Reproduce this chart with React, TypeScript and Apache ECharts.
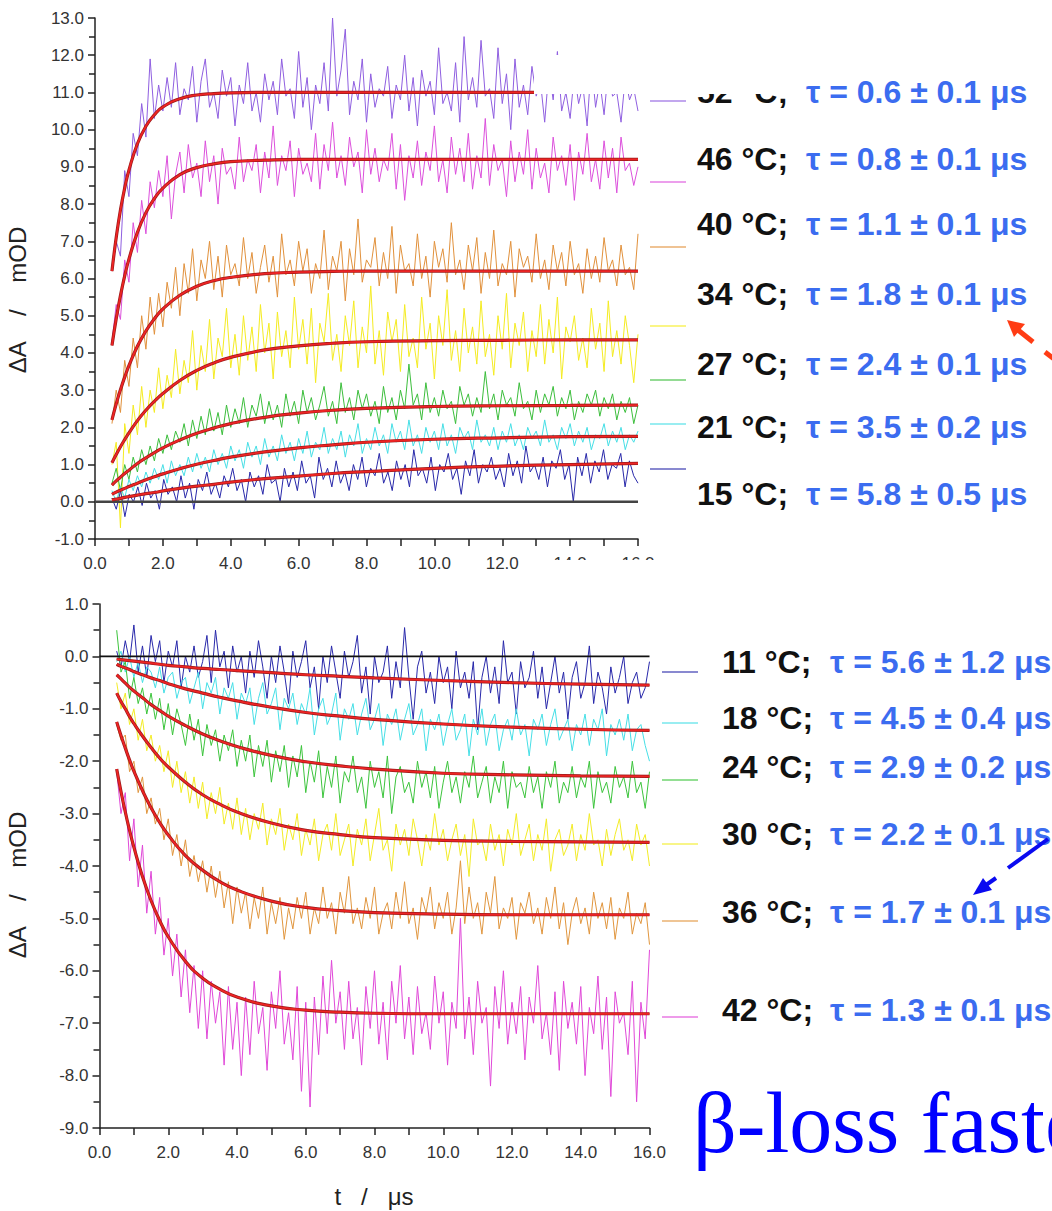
import React, { useEffect, useRef } from 'react';
import * as echarts from 'echarts';

// ---------- DATA ----------
const T_START = 0.5;
const T_END = 16;

// fit time grid (μs)
const fitTimes = [0.5, 0.625, 0.75, 0.875, 1, 1.25, 1.5, 1.75, 2, 2.5, 3, 3.5, 4, 5, 6, 7, 8, 10, 12, 14, 16];

// Top panel (ΔA rising)
const topTempLabels = ['52 °C;', '46 °C;', '40 °C;', '34 °C;', '27 °C;', '21 °C;', '15 °C;'];
const topTauLabels = ['τ = 0.6 ± 0.1 μs', 'τ = 0.8 ± 0.1 μs', 'τ = 1.1 ± 0.1 μs', 'τ = 1.8 ± 0.1 μs', 'τ = 2.4 ± 0.1 μs', 'τ = 3.5 ± 0.2 μs', 'τ = 5.8 ± 0.5 μs'];

const fit52 = [6.2, 7.1, 7.84, 8.43, 8.91, 9.62, 10.09, 10.4, 10.61, 10.83, 10.93, 10.97, 10.99, 11.0, 11.0, 11.0, 11.0, 11.0, 11.0, 11.0, 11.0];
const fit46 = [4.2, 4.92, 5.54, 6.07, 6.52, 7.24, 7.77, 8.15, 8.43, 8.79, 8.98, 9.08, 9.14, 9.18, 9.2, 9.2, 9.2, 9.2, 9.2, 9.2, 9.2];
const fit40 = [2.2, 2.63, 3.01, 3.35, 3.66, 4.18, 4.59, 4.92, 5.18, 5.55, 5.79, 5.94, 6.03, 6.13, 6.17, 6.19, 6.2, 6.2, 6.2, 6.2, 6.2];
const fit34 = [1.05, 1.27, 1.48, 1.67, 1.85, 2.18, 2.46, 2.7, 2.91, 3.26, 3.53, 3.73, 3.88, 4.08, 4.19, 4.26, 4.3, 4.33, 4.34, 4.35, 4.35];
const fit27 = [0.45, 0.56, 0.66, 0.76, 0.85, 1.03, 1.18, 1.32, 1.45, 1.66, 1.84, 1.98, 2.1, 2.27, 2.38, 2.46, 2.51, 2.56, 2.58, 2.59, 2.6];
const fit21 = [0.2, 0.26, 0.31, 0.36, 0.41, 0.5, 0.59, 0.67, 0.75, 0.89, 1.01, 1.11, 1.2, 1.34, 1.45, 1.53, 1.6, 1.68, 1.72, 1.75, 1.76];
const fit15 = [0.05, 0.07, 0.09, 0.12, 0.14, 0.18, 0.22, 0.25, 0.29, 0.36, 0.42, 0.47, 0.53, 0.62, 0.69, 0.76, 0.81, 0.9, 0.96, 1.0, 1.03];

const trace52 = [6.2, 7.0, 6.6, 8.9, 8.2, 9.9, 9.3, 10.7, 9.8, 11.9, 10.3, 11.2, 10.5, 11.4, 10.6, 11.8, 10.4, 11.1, 10.8, 11.7, 10.2, 11.3, 11.9, 10.6, 11.0, 10.3, 11.6, 10.9, 11.4, 10.1, 11.2, 10.7, 11.8, 10.5, 11.0, 10.2, 11.5, 10.8, 11.3, 10.4, 11.9, 10.9, 11.1, 10.3, 12.1, 10.6, 11.4, 10.0, 11.2, 10.7, 11.8, 10.5, 13.0, 10.9, 11.6, 12.7, 10.4, 11.3, 10.8, 11.9, 10.2, 11.5, 10.6, 11.1, 10.9, 11.7, 10.3, 11.2, 10.8, 12.0, 10.5, 11.4, 10.1, 11.6, 10.9, 11.3, 10.4, 12.2, 10.7, 11.0, 10.5, 11.8, 10.2, 12.5, 10.8, 11.4, 10.6, 12.4, 10.9, 11.1, 10.3, 12.2, 10.7, 11.5, 10.0, 11.9, 10.6, 11.2, 10.4, 11.7, 10.9, 11.3, 10.2, 11.6, 10.8, 12.1, 10.5, 11.0, 10.3, 11.5, 10.7, 11.2, 10.1, 11.8, 10.6, 11.3, 10.4, 11.6, 10.9, 11.0, 10.2, 11.4, 10.8, 11.1, 10.5];
const trace46 = [4.3, 5.3, 4.9, 6.5, 5.9, 7.5, 6.7, 8.1, 7.2, 8.6, 7.9, 8.9, 8.2, 9.3, 7.6, 8.8, 9.4, 8.3, 9.6, 8.7, 9.1, 8.2, 9.7, 8.6, 9.3, 8.0, 9.5, 8.8, 9.0, 8.4, 9.8, 8.6, 9.2, 8.9, 9.6, 8.3, 9.4, 8.7, 10.1, 8.5, 9.3, 8.9, 9.7, 8.2, 9.5, 8.8, 9.1, 8.6, 9.9, 8.4, 9.6, 8.9, 10.2, 8.7, 9.3, 8.5, 9.8, 9.0, 9.4, 8.3, 10.0, 8.8, 9.5, 8.6, 9.2, 8.9, 9.9, 8.4, 9.6, 8.1, 9.3, 8.7, 9.7, 8.5, 9.4, 8.9, 10.1, 8.6, 9.2, 8.3, 9.8, 8.8, 9.5, 8.6, 9.9, 8.4, 9.3, 8.7, 10.3, 8.5, 9.6, 8.9, 9.2, 8.2, 9.7, 8.6, 9.4, 8.8, 10.0, 8.4, 9.5, 8.7, 9.1, 8.3, 9.8, 8.9, 9.3, 8.5, 9.6, 8.1, 9.4, 8.8, 9.9, 8.6, 9.2, 8.4, 9.7, 8.7, 9.5, 8.3, 9.8, 8.9, 9.1, 8.5, 9.0];
const trace40 = [2.1, 3.0, 2.4, 3.8, 3.1, 4.4, 3.6, 5.0, 4.1, 5.5, 4.5, 5.6, 4.7, 5.9, 5.2, 6.3, 5.0, 6.4, 5.6, 6.8, 5.4, 6.5, 6.0, 7.0, 5.7, 6.6, 5.5, 6.9, 6.1, 6.4, 5.8, 7.1, 6.0, 6.7, 5.6, 6.3, 6.9, 5.9, 6.6, 5.5, 7.2, 6.1, 6.5, 5.8, 7.0, 6.2, 6.8, 5.6, 6.4, 6.0, 7.3, 5.7, 6.6, 6.2, 7.0, 5.4, 6.8, 6.1, 7.6, 5.9, 6.5, 6.3, 7.1, 5.8, 6.7, 6.0, 7.4, 5.6, 6.9, 6.2, 6.4, 5.8, 7.2, 6.0, 6.6, 5.5, 7.0, 6.3, 6.8, 5.9, 7.5, 6.1, 6.5, 5.7, 6.9, 6.2, 7.1, 5.6, 6.7, 6.0, 7.3, 5.8, 6.4, 6.1, 7.0, 5.5, 6.8, 6.3, 6.6, 5.9, 7.2, 6.0, 6.5, 5.7, 6.9, 6.2, 6.7, 5.8, 7.0, 6.1, 6.4, 5.6, 6.8, 6.0, 6.6, 5.9, 7.1, 6.2, 6.5, 5.8, 6.9, 6.1, 6.3, 5.7, 7.2];
const trace34 = [1.0, 1.6, -0.7, 2.1, 1.3, 2.6, 1.8, 3.1, 2.0, 3.0, 2.4, 3.6, 2.5, 3.4, 2.8, 4.1, 2.9, 3.8, 3.2, 4.6, 3.0, 4.2, 3.5, 4.9, 3.3, 4.4, 3.9, 5.2, 3.6, 4.5, 3.4, 5.0, 3.8, 4.7, 3.5, 5.3, 4.0, 4.8, 3.3, 5.1, 3.9, 4.6, 3.6, 5.5, 4.1, 4.9, 3.7, 5.2, 3.2, 4.8, 4.3, 5.6, 3.8, 4.5, 3.5, 5.0, 4.2, 5.4, 3.6, 4.7, 4.0, 5.8, 3.7, 4.6, 3.4, 5.1, 4.3, 4.9, 3.5, 5.3, 3.9, 4.4, 3.6, 5.5, 4.1, 4.8, 3.3, 5.0, 4.2, 5.7, 3.8, 4.6, 3.5, 5.2, 4.0, 4.7, 3.7, 5.4, 3.9, 4.5, 3.4, 5.0, 4.1, 5.6, 3.6, 4.8, 4.2, 5.1, 3.5, 4.6, 3.9, 5.3, 3.7, 4.9, 4.0, 5.5, 3.3, 4.7, 4.3, 5.0, 3.8, 4.4, 3.6, 5.2, 4.1, 4.8, 3.5, 5.4, 3.9, 4.6, 3.7, 5.0, 4.2, 3.2, 4.5];
const trace27 = [0.5, 0.9, 0.3, 1.0, 0.6, 1.2, 0.8, 1.4, 1.0, 1.5, 1.1, 1.7, 1.3, 1.8, 1.4, 1.9, 1.6, 2.1, 1.5, 2.2, 1.7, 2.3, 1.8, 2.5, 1.9, 2.4, 1.8, 2.6, 2.0, 2.5, 2.1, 2.8, 2.0, 2.6, 2.3, 2.9, 2.1, 2.7, 2.2, 2.6, 2.0, 2.9, 2.3, 2.7, 2.1, 3.0, 2.4, 2.8, 2.2, 2.6, 3.1, 2.3, 2.7, 2.1, 3.2, 2.4, 2.8, 2.2, 3.0, 2.5, 2.9, 2.3, 2.7, 2.1, 3.1, 2.4, 2.8, 2.2, 3.0, 2.5, 3.7, 2.6, 2.9, 2.2, 3.2, 2.4, 2.8, 2.3, 3.0, 2.5, 2.7, 2.1, 3.1, 2.6, 2.9, 2.3, 2.8, 2.4, 3.5, 2.5, 2.9, 2.2, 3.0, 2.6, 2.8, 2.3, 3.2, 2.5, 2.7, 2.2, 3.0, 2.4, 2.9, 2.6, 3.1, 2.3, 2.8, 2.5, 3.0, 2.2, 2.7, 2.4, 2.9, 2.6, 3.0, 2.3, 2.8, 2.5, 2.9, 2.2, 2.7, 2.4, 2.8, 2.1, 2.6];
const trace21 = [0.3, 0.0, 0.4, 0.1, 0.6, 0.3, 0.7, 0.4, 0.8, 0.5, 0.9, 0.6, 1.0, 0.5, 1.1, 0.7, 1.0, 0.7, 1.2, 0.8, 1.3, 0.9, 1.2, 0.8, 1.4, 1.0, 1.3, 0.9, 1.5, 1.1, 1.4, 0.9, 1.6, 1.2, 1.5, 1.0, 1.7, 1.2, 1.5, 1.1, 1.8, 1.3, 1.6, 1.1, 1.7, 1.3, 1.9, 1.2, 1.6, 1.4, 2.0, 1.3, 1.7, 1.4, 1.9, 1.2, 1.8, 1.5, 2.1, 1.3, 1.7, 1.4, 2.0, 1.5, 1.8, 1.3, 2.1, 1.6, 1.9, 1.4, 2.2, 1.5, 1.8, 1.3, 2.0, 1.6, 1.9, 1.4, 2.1, 1.5, 1.8, 1.3, 2.0, 1.7, 1.9, 1.4, 2.2, 1.6, 1.8, 1.5, 2.0, 1.4, 1.9, 1.6, 2.1, 1.5, 1.8, 1.4, 2.0, 1.7, 1.9, 1.5, 2.2, 1.6, 1.8, 1.4, 2.0, 1.7, 2.1, 1.5, 1.9, 1.6, 2.0, 1.4, 1.8, 1.7, 2.1, 1.5, 1.9, 1.6, 2.0, 1.4, 1.8, 1.6, 1.9];
const trace15 = [0.1, -0.2, 0.3, -0.4, 0.2, 0.0, 0.4, -0.1, 0.5, 0.1, 0.3, -0.2, 0.6, 0.2, 0.4, 0.0, 0.7, 0.1, 0.5, -0.2, 0.6, 0.3, 0.8, 0.2, 0.5, 0.1, 0.7, 0.4, 0.9, 0.3, 0.6, 0.0, 0.8, 0.4, 0.7, 0.2, 1.0, 0.5, 0.6, 0.0, 0.9, 0.4, 0.8, 0.3, 1.1, 0.5, 0.7, 0.1, 1.2, 0.6, 0.9, 0.4, 1.1, 0.5, 0.8, 0.3, 1.0, 0.6, 1.2, 0.4, 0.9, 0.7, 1.3, 0.5, 0.8, 0.3, 1.1, 0.6, 1.0, 0.4, 1.4, 0.7, 0.9, 0.5, 1.2, 0.3, 1.0, 0.8, 1.3, 0.6, 0.9, 0.2, 1.1, 0.7, 1.4, 0.5, 1.0, 0.8, 1.2, 0.6, 0.9, 0.4, 1.3, 0.7, 1.1, 0.5, 1.5, 0.8, 1.0, 0.6, 1.2, 0.4, 1.1, 0.9, 1.4, 0.6, 1.0, 0.0, 1.2, 0.7, 1.3, 0.5, 1.1, 0.8, 1.4, 0.6, 1.0, 0.9, 1.3, 0.4, 1.1, 0.7, 0.5];

// Bottom panel (ΔA decaying)
const botTempLabels = ['11 °C;', '18 °C;', '24 °C;', '30 °C;', '36 °C;', '42 °C;'];
const botTauLabels = ['τ = 5.6 ± 1.2 μs', 'τ = 4.5 ± 0.4 μs', 'τ = 2.9 ± 0.2 μs', 'τ = 2.2 ± 0.1 μs', 'τ = 1.7 ± 0.1 μs', 'τ = 1.3 ± 0.1 μs'];

const fit11 = [-0.05, -0.06, -0.07, -0.08, -0.09, -0.11, -0.13, -0.15, -0.17, -0.2, -0.23, -0.25, -0.27, -0.31, -0.35, -0.38, -0.41, -0.46, -0.5, -0.53, -0.55];
const fit18 = [-0.15, -0.19, -0.22, -0.25, -0.29, -0.35, -0.41, -0.46, -0.52, -0.62, -0.7, -0.78, -0.85, -0.97, -1.07, -1.14, -1.2, -1.29, -1.35, -1.39, -1.41];
const fit24 = [-0.35, -0.43, -0.51, -0.59, -0.66, -0.79, -0.92, -1.03, -1.14, -1.32, -1.48, -1.61, -1.72, -1.89, -2.01, -2.09, -2.15, -2.23, -2.26, -2.28, -2.29];
const fit30 = [-0.7, -0.86, -1.0, -1.15, -1.28, -1.52, -1.74, -1.94, -2.11, -2.4, -2.64, -2.82, -2.97, -3.18, -3.32, -3.4, -3.46, -3.51, -3.53, -3.54, -3.55];
const fit36 = [-1.25, -1.51, -1.75, -1.98, -2.19, -2.56, -2.89, -3.17, -3.41, -3.8, -4.08, -4.3, -4.46, -4.67, -4.79, -4.85, -4.89, -4.92, -4.93, -4.93, -4.93];
const fit42 = [-2.15, -2.58, -2.97, -3.32, -3.64, -4.2, -4.66, -5.04, -5.35, -5.82, -6.14, -6.35, -6.5, -6.67, -6.75, -6.79, -6.81, -6.82, -6.82, -6.82, -6.82];

const trace11 = [0.1, -0.2, 0.3, -0.1, 0.6, -0.3, 0.2, -0.4, 0.4, -0.1, 0.3, -0.5, 0.1, -0.2, 0.3, -0.6, 0.0, -0.3, 0.2, -0.4, -0.1, 0.4, -0.5, 0.5, -0.2, 0.1, -0.6, 0.2, -0.3, 0.0, -0.7, 0.1, -0.4, 0.3, -0.2, -0.8, 0.0, -0.5, 0.2, -0.3, -0.9, 0.1, -0.4, -0.1, 0.3, -0.6, -0.2, -1.0, 0.0, -0.5, 0.2, -0.3, -0.8, 0.1, -0.4, -0.1, 0.4, -0.7, -0.2, -1.1, 0.0, -0.5, -0.3, 0.2, -0.8, -0.1, -0.6, 0.55, -0.4, -1.2, -0.2, 0.1, -0.7, -0.3, -0.9, 0.0, -0.5, -0.2, -1.0, 0.1, -0.6, -0.3, -0.8, -0.1, -1.4, -0.4, 0.0, -0.7, -0.2, -0.9, 0.3, -0.5, -0.3, -1.1, -0.1, -0.6, -0.4, 0.1, -0.8, -0.2, -1.0, -0.5, 0.0, -0.7, -0.3, -1.2, -0.4, -0.1, -0.8, -0.5, 0.2, -0.9, -0.3, -0.6, -1.1, -0.2, -0.7, -0.4, 0.0, -0.9, -0.5, -0.3, -0.8, -0.6, -0.1];
const trace18 = [-0.1, 0.1, -0.3, 0.0, -0.4, -0.1, -0.5, -0.2, -0.3, -0.6, -0.2, -0.7, -0.4, -0.3, -0.8, -0.5, -0.4, -0.9, -0.6, -0.3, -1.0, -0.5, -0.7, -0.4, -1.1, -0.6, -0.8, -0.5, -1.2, -0.7, -0.9, -0.6, -1.3, -0.8, -0.5, -1.1, -0.9, -0.6, -1.4, -0.8, -1.0, -0.7, -1.3, -0.9, -1.1, -0.6, -1.5, -1.0, -0.8, -1.3, -1.1, -0.7, -1.6, -1.0, -1.2, -0.9, -1.5, -1.1, -0.8, -1.4, -1.2, -0.9, -1.7, -1.1, -1.3, -1.0, -1.6, -1.2, -0.9, -1.5, -1.3, -1.0, -1.8, -1.2, -1.4, -1.1, -1.7, -1.3, -1.0, -1.6, -1.4, -1.1, -1.9, -1.2, -1.5, -1.0, -1.7, -1.3, -1.1, -1.8, -1.4, -1.2, -1.6, -1.0, -1.5, -1.3, -1.9, -1.2, -1.4, -1.1, -1.7, -1.3, -1.0, -1.6, -1.4, -1.2, -1.8, -1.3, -1.5, -1.1, -1.7, -1.2, -1.4, -1.0, -1.9, -1.3, -1.5, -1.2, -1.6, -1.1, -1.8, -1.4, -1.3, -1.7, -2.0];
const trace24 = [0.5, -0.3, -0.1, -0.8, -0.4, -0.9, -0.6, -1.1, -0.7, -1.2, -0.8, -1.4, -0.9, -1.5, -1.0, -1.3, -1.7, -1.1, -1.6, -1.2, -1.9, -1.3, -1.7, -1.4, -2.0, -1.5, -1.8, -1.4, -2.1, -1.6, -2.0, -1.5, -2.3, -1.7, -2.1, -1.6, -2.4, -1.8, -2.2, -1.7, -2.5, -1.9, -2.3, -1.7, -2.6, -2.0, -2.4, -1.8, -2.7, -2.1, -2.5, -1.9, -2.8, -2.2, -2.4, -1.9, -2.6, -2.3, -2.9, -2.0, -2.5, -2.2, -2.7, -1.9, -3.0, -2.3, -2.1, -2.6, -2.4, -2.8, -2.0, -2.5, -2.2, -2.7, -2.1, -2.9, -2.4, -2.0, -2.6, -2.3, -2.8, -2.2, -2.5, -1.9, -2.7, -2.4, -2.1, -2.8, -2.3, -2.6, -2.0, -2.9, -2.2, -2.5, -2.4, -2.7, -2.1, -2.6, -2.3, -2.9, -2.2, -2.5, -2.0, -2.8, -2.4, -2.6, -2.1, -2.7, -2.3, -2.5, -2.0, -2.9, -2.2, -2.6, -2.4, -2.8, -2.1, -2.5, -2.3, -2.7, -2.0, -2.6, -2.4, -2.9, -2.2];
const trace30 = [-0.5, -1.0, -0.7, -1.3, -1.0, -1.6, -1.2, -1.8, -1.5, -2.0, -1.7, -2.2, -1.8, -2.5, -2.0, -2.6, -2.2, -2.8, -2.3, -2.9, -2.4, -3.1, -2.6, -3.0, -2.5, -3.2, -2.8, -3.3, -2.7, -3.4, -2.9, -3.5, -3.0, -3.3, -2.8, -3.6, -3.1, -3.4, -2.9, -3.7, -3.2, -3.5, -3.0, -3.8, -3.3, -3.6, -3.1, -3.9, -3.4, -3.2, -3.7, -3.0, -3.8, -3.5, -3.2, -4.0, -3.3, -3.6, -3.1, -3.9, -3.4, -2.9, -3.7, -3.5, -4.1, -3.2, -3.6, -3.3, -3.8, -3.1, -3.5, -4.0, -3.4, -3.7, -3.0, -3.6, -3.3, -3.9, -3.5, -3.2, -3.8, -3.4, -4.2, -3.1, -3.6, -3.5, -3.9, -3.2, -3.7, -3.4, -4.0, -3.3, -3.6, -3.0, -3.8, -3.5, -3.2, -3.9, -3.4, -3.7, -3.1, -4.1, -3.5, -3.3, -3.8, -3.6, -3.2, -3.9, -3.4, -3.7, -3.0, -3.6, -3.5, -4.0, -3.3, -3.8, -3.4, -3.1, -3.7, -3.5, -3.9, -3.2, -3.6, -3.4, -4.0];
const trace36 = [-1.3, -1.6, -1.5, -2.2, -2.0, -2.6, -2.3, -3.0, -2.7, -3.2, -2.9, -3.5, -3.1, -3.8, -3.4, -4.0, -3.5, -4.2, -3.8, -4.3, -3.9, -4.5, -4.0, -4.6, -4.1, -4.8, -4.3, -5.1, -4.4, -4.9, -4.5, -5.2, -4.6, -5.0, -4.4, -5.3, -4.7, -5.1, -4.6, -5.4, -4.8, -5.2, -4.6, -5.0, -4.5, -5.3, -4.8, -5.1, -4.4, -5.0, -4.7, -5.3, -4.5, -4.9, -4.2, -5.1, -4.8, -5.2, -4.6, -5.0, -4.4, -5.3, -4.9, -4.7, -5.2, -4.5, -5.0, -4.3, -5.1, -4.8, -5.4, -4.6, -4.9, -4.4, -5.2, -4.7, -5.0, -4.5, -5.3, -4.8, -3.9, -5.1, -4.4, -5.0, -4.7, -5.3, -4.5, -4.9, -4.2, -5.2, -4.8, -5.0, -4.6, -5.4, -4.7, -4.9, -4.5, -5.1, -4.8, -5.3, -4.6, -5.0, -4.4, -5.2, -4.7, -5.5, -4.9, -4.6, -5.1, -4.8, -5.3, -4.5, -5.0, -4.7, -5.2, -4.6, -5.4, -4.8, -5.0, -4.5, -5.3, -4.9, -5.1, -4.7, -5.5];
const trace42 = [-2.2, -3.0, -2.6, -3.9, -3.1, -4.4, -3.6, -4.9, -4.1, -5.3, -4.6, -5.7, -5.0, -6.1, -5.3, -6.5, -5.6, -6.8, -5.9, -7.1, -6.0, -7.3, -6.2, -7.0, -6.4, -7.8, -6.3, -7.5, -6.6, -8.0, -6.5, -7.6, -6.2, -7.2, -6.7, -7.9, -6.4, -7.1, -6.0, -7.4, -6.8, -7.7, -6.3, -8.3, -6.6, -8.6, -6.5, -7.6, -6.1, -7.2, -5.8, -7.0, -6.4, -7.5, -6.2, -7.3, -6.7, -7.8, -6.3, -7.1, -6.0, -7.4, -6.6, -7.7, -6.2, -7.0, -5.9, -7.3, -6.5, -7.6, -6.3, -7.2, -6.8, -7.5, -6.1, -7.0, -6.4, -7.8, -6.6, -7.1, -5.0, -7.3, -6.5, -7.6, -6.2, -7.0, -6.7, -8.2, -6.3, -7.1, -6.0, -7.4, -6.6, -7.2, -6.3, -7.7, -6.5, -7.0, -5.9, -7.3, -6.8, -7.6, -6.4, -7.9, -6.2, -7.1, -6.6, -7.4, -6.3, -8.0, -6.7, -7.2, -6.1, -7.5, -6.5, -8.4, -6.4, -7.0, -6.8, -7.6, -6.2, -8.5, -6.6, -7.3, -5.6];

const topTraces = [trace52, trace46, trace40, trace34, trace27, trace21, trace15];
const topFits = [fit52, fit46, fit40, fit34, fit27, fit21, fit15];
const botTraces = [trace11, trace18, trace24, trace30, trace36, trace42];
const botFits = [fit11, fit18, fit24, fit30, fit36, fit42];

// ---------- STYLE / LAYOUT ----------
const topColors = ['#8f5fe0', '#dc50dc', '#e1913c', '#f5ec22', '#3cbe3c', '#46dfe6', '#2828aa'];
const botColors = ['#2828aa', '#46dfe6', '#3cc43c', '#f3ec26', '#e1963e', '#e048d8'];
const topRowY = [92, 159, 224, 294, 364, 427, 494];
const topLegendY = [101, 182, 247, 326, 380, 424, 469];
const botRowY = [662, 718, 767, 834, 912, 1010];
const botLegendY = [672, 723, 780, 844, 921, 1017];

const SANS = '"Liberation Sans", Arial, Helvetica, sans-serif';
const AXIS_COLOR = '#222';

const toPairs = (vals: number[]) =>
  vals.map((v, i) => [T_START + (i * (T_END - T_START)) / (vals.length - 1), v]);
const fitPairs = (vals: number[]) => vals.map((v, i) => [fitTimes[i], v]);

function makeAxes(gi: number, yMin: number, yMax: number) {
  const lineStyle = { color: AXIS_COLOR, width: 1.5 };
  const labelBase = { fontSize: 17, color: '#333', fontFamily: SANS, formatter: (v: number) => v.toFixed(1) };
  return {
    x: {
      gridIndex: gi, type: 'value', min: 0, max: 16, interval: 2,
      axisLine: { show: true, onZero: false, lineStyle },
      axisTick: { show: true, length: 7, lineStyle },
      minorTick: { show: true, splitNumber: 2, length: 7, lineStyle },
      splitLine: { show: false },
      axisLabel: { ...labelBase, margin: 16 },
    },
    y: {
      gridIndex: gi, type: 'value', min: yMin, max: yMax, interval: 1,
      axisLine: { show: true, onZero: false, lineStyle },
      axisTick: { show: true, length: 7, lineStyle },
      minorTick: { show: true, splitNumber: 2, length: 6, lineStyle },
      splitLine: { show: false },
      axisLabel: { ...labelBase, margin: 11 },
    },
  };
}

function lineSeries(data: number[][], gi: number, color: string, width: number, z: number, smooth = false) {
  return {
    type: 'line', xAxisIndex: gi, yAxisIndex: gi, data, showSymbol: false, symbol: 'none',
    smooth, silent: true, z, lineStyle: { color, width }, emphasis: { disabled: true },
  };
}

function buildOption() {
  const top = makeAxes(0, -1, 13);
  const bot = makeAxes(1, -9, 1);
  const series: any[] = [];

  topTraces.forEach((tr, i) => series.push(lineSeries(toPairs(tr), 0, topColors[i], 1, 2)));
  series.push(lineSeries([[0, 0], [16, 0]], 0, '#444', 2.5, 3));
  topFits.forEach((f) => {
    series.push(lineSeries(fitPairs(f), 0, '#9a1a1a', 3.2, 4, true));
    series.push(lineSeries(fitPairs(f), 0, '#ee2424', 1.8, 5, true));
  });

  botTraces.forEach((tr, i) => series.push(lineSeries(toPairs(tr), 1, botColors[i], 1, 2)));
  series.push(lineSeries([[0, 0], [16, 0]], 1, '#111', 1.6, 3));
  botFits.forEach((f) => {
    series.push(lineSeries(fitPairs(f), 1, '#9a1a1a', 3.2, 4, true));
    series.push(lineSeries(fitPairs(f), 1, '#ee2424', 1.8, 5, true));
  });

  const graphics: any[] = [];
  const labelFont = { fontSize: 32, fontWeight: 'bold', fontFamily: SANS, verticalAlign: 'middle', align: 'left' };

  topTempLabels.forEach((t, i) => {
    graphics.push({ type: 'text', x: 697, y: topRowY[i], z: 50, style: { ...labelFont, text: t, fill: '#111' } });
    graphics.push({ type: 'text', x: 806, y: topRowY[i], z: 50, style: { ...labelFont, text: topTauLabels[i], fill: '#3b6cf0' } });
    graphics.push({ type: 'line', z: 50, shape: { x1: 650, y1: topLegendY[i], x2: 686, y2: topLegendY[i] }, style: { stroke: topColors[i], lineWidth: 2, opacity: 0.55 } });
  });
  botTempLabels.forEach((t, i) => {
    graphics.push({ type: 'text', x: 722, y: botRowY[i], z: 50, style: { ...labelFont, text: t, fill: '#111' } });
    graphics.push({ type: 'text', x: 830, y: botRowY[i], z: 50, style: { ...labelFont, text: botTauLabels[i], fill: '#3b6cf0' } });
    graphics.push({ type: 'line', z: 50, shape: { x1: 662, y1: botLegendY[i], x2: 698, y2: botLegendY[i] }, style: { stroke: botColors[i], lineWidth: 2, opacity: 0.55 } });
  });

  // white patches seen in the reference
  graphics.push({ type: 'rect', z: 60, shape: { x: 534, y: 55, width: 268, height: 39 }, style: { fill: '#fff' } });
  graphics.push({ type: 'rect', z: 60, shape: { x: 530, y: 560, width: 140, height: 24 }, style: { fill: '#fff' } });

  // axis titles
  const titleStyle = { fontSize: 24, fontFamily: SANS, fill: '#222', align: 'center', verticalAlign: 'middle' };
  graphics.push({ type: 'text', x: 17, y: 300, rotation: Math.PI / 2, z: 50, style: { ...titleStyle, text: 'ΔA    /    mOD' } });
  graphics.push({ type: 'text', x: 17, y: 885, rotation: Math.PI / 2, z: 50, style: { ...titleStyle, text: 'ΔA    /    mOD' } });
  graphics.push({ type: 'text', x: 374, y: 1196, z: 50, style: { ...titleStyle, text: 't   /   μs' } });

  // red arrow (top)
  graphics.push({ type: 'polygon', z: 70, shape: { points: [[1007, 320], [1014, 337], [1025, 324]] }, style: { fill: '#ff3c14' } });
  graphics.push({ type: 'line', z: 70, shape: { x1: 1018, y1: 330, x2: 1033, y2: 342 }, style: { stroke: '#ff3c14', lineWidth: 5 } });
  graphics.push({ type: 'line', z: 70, shape: { x1: 1045, y1: 352, x2: 1058, y2: 362 }, style: { stroke: '#ff3c14', lineWidth: 5 } });

  // blue arrow (bottom)
  graphics.push({ type: 'polygon', z: 70, shape: { points: [[973, 895], [992, 890], [983, 878]] }, style: { fill: '#0a0af0' } });
  graphics.push({ type: 'line', z: 70, shape: { x1: 986, y1: 885, x2: 996, y2: 878 }, style: { stroke: '#0a0af0', lineWidth: 4 } });
  graphics.push({ type: 'line', z: 70, shape: { x1: 1008, y1: 868, x2: 1048, y2: 839 }, style: { stroke: '#0a0af0', lineWidth: 4 } });

  // big serif caption (runs off the right edge, as in the reference)
  graphics.push({ type: 'text', x: 693, y: 1123, z: 50, style: { text: 'β-loss faster', fontSize: 86, fontFamily: '"Liberation Serif", "Times New Roman", serif', fill: '#0000ff', align: 'left', verticalAlign: 'middle' } });

  return {
    animation: false,
    backgroundColor: '#fff',
    grid: [
      { left: 95, top: 18, width: 543, height: 521, containLabel: false },
      { left: 99.5, top: 604, width: 550, height: 524, containLabel: false },
    ],
    xAxis: [top.x, bot.x],
    yAxis: [top.y, bot.y],
    series,
    graphic: { elements: graphics },
  };
}

export default function App() {
  const ref = useRef<HTMLDivElement>(null);
  useEffect(() => {
    if (!ref.current) return;
    const chart = echarts.init(ref.current, undefined, { renderer: 'svg' });
    chart.setOption(buildOption() as any);
    return () => chart.dispose();
  }, []);
  return <div ref={ref} style={{ position: 'absolute', left: 0, top: 0, width: 1052, height: 1211 }} />;
}
